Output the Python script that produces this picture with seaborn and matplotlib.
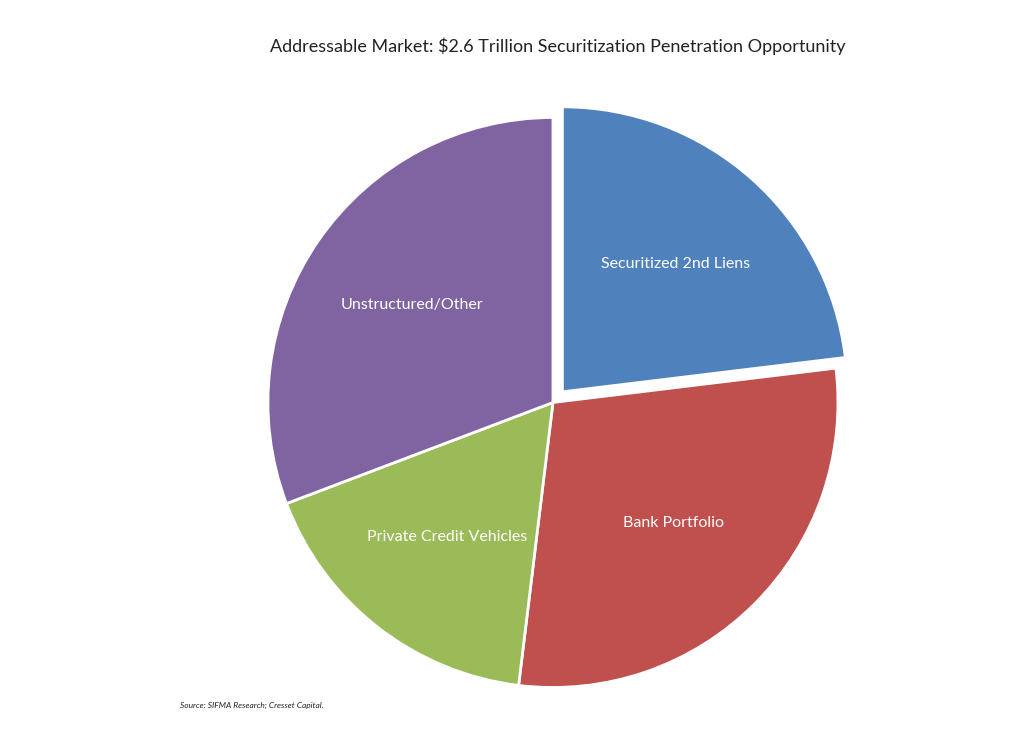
import matplotlib
matplotlib.use("Agg")
import matplotlib.pyplot as plt
import seaborn as sns

sns.set_theme(style="white")
plt.rcParams['font.family'] = ['Lato', 'DejaVu Sans']

segments = ['Securitized 2nd Liens', 'Bank Portfolio', 'Private Credit Vehicles', 'Unstructured/Other']
values = [0.60, 0.75, 0.45, 0.80]  # $ trillions
colors = ['#4F81BD', '#C0504D', '#9BBB59', '#8064A2']
explode = [0.05, 0, 0, 0]

fig = plt.figure(figsize=(10.24, 7.43), dpi=100)
ax = fig.add_axes([0.206, -0.002, 0.668, 0.9206])
wedges, texts = ax.pie(values, labels=segments, colors=colors, explode=explode,
                       startangle=90, counterclock=False, labeldistance=0.6,
                       wedgeprops=dict(edgecolor='white', linewidth=2),
                       textprops=dict(color='white', fontsize=11.5))
for t in texts:
    t.set_ha('center')
ax.set_xlim(-1.2, 1.2)
ax.set_ylim(-1.2, 1.2)
ax.set_aspect('equal')

fig.text(0.545, 0.938, 'Addressable Market: $2.6 Trillion Securitization Penetration Opportunity',
         ha='center', va='center', fontsize=13, color='#222222')
fig.text(0.176, 0.05, 'Source: SIFMA Research; Cresset Capital.', fontsize=6, style='italic',
         color='#222222', va='center')

plt.savefig('out.png', dpi=100)
